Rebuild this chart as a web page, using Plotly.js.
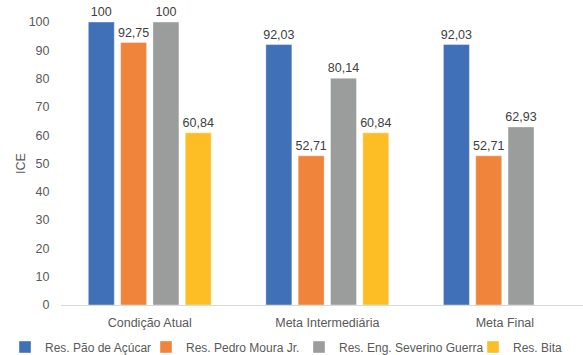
<!DOCTYPE html>
<html>
<head>
<meta charset="utf-8">
<script src="https://cdn.plot.ly/plotly-3.0.1.min.js"></script>
<style>html,body{margin:0;padding:0;background:#fff;}#chart{width:583px;height:355px;}</style>
</head>
<body>
<div id="chart"></div>
<script>
const categories = ["Condição Atual", "Meta Intermediária", "Meta Final"];
const seriesNames = ["Res. Pão de Açúcar", "Res. Pedro Moura Jr.", "Res. Eng. Severino Guerra", "Res. Bita"];
const paoDeAcucar = [100, 92.03, 92.03];
const pedroMoura = [92.75, 52.71, 52.71];
const severinoGuerra = [100, 80.14, 62.93];
const bita = [60.84, 60.84, null];
const colors = ["#3F70B8", "#F0843B", "#9B9D9D", "#FDBE25"];

const allValues = [paoDeAcucar, pedroMoura, severinoGuerra, bita];
const fmt = v => v === null ? "" : String(v).replace(".", ",");
const legendIds = ["legend", "legend2", "legend3", "legend4"];
const legendTextStart = [45, 186, 339, 513];

const traces = allValues.map((vals, i) => ({
  type: "bar",
  name: seriesNames[i],
  legend: legendIds[i],
  x: categories,
  y: vals,
  text: vals.map(fmt),
  textposition: "outside",
  constraintext: "none",
  cliponaxis: false,
  textfont: {family: "Liberation Sans, Arial, sans-serif", size: 12.5, color: "#404040"},
  marker: {color: colors[i], line: {color: "rgba(255,255,255,0.5)", width: 0.8}},
  hoverinfo: "skip"
}));

const layout = {
  width: 583, height: 355,
  margin: {l: 61, r: 0, t: 22, b: 50},
  paper_bgcolor: "#fff", plot_bgcolor: "#fff",
  font: {family: "Liberation Sans, Arial, sans-serif", size: 12, color: "#595959"},
  barmode: "group",
  bargap: 0.272,
  bargroupgap: 0.195,
  showlegend: true,
  xaxis: {
    range: [-0.5, 2.44],
    showgrid: false, zeroline: false,
    showline: true, linecolor: "#D9D9D9", linewidth: 1,
    ticks: "outside", ticklen: 6, tickcolor: "rgba(0,0,0,0)",
    tickfont: {size: 12.5, color: "#595959"}
  },
  yaxis: {
    range: [0, 100],
    dtick: 10, tick0: 0,
    showgrid: false, zeroline: false, showline: false,
    ticks: "outside", ticklen: 8, tickcolor: "rgba(0,0,0,0)",
    tickfont: {size: 12.5, color: "#595959"},
    title: {text: "ICE", font: {size: 12.5, color: "#595959"}, standoff: 0}
  }
};

legendIds.forEach((id, i) => {
  layout[id] = {
    orientation: "h",
    xref: "container", yref: "container",
    x: (legendTextStart[i] - 40) / 583, xanchor: "left",
    y: (355 - 347) / 355, yanchor: "middle",
    font: {size: 12, color: "#595959"},
    itemwidth: 30,
    bgcolor: "rgba(0,0,0,0)",
    borderwidth: 0
  };
});

Plotly.newPlot("chart", traces, layout, {displayModeBar: false, staticPlot: true});
</script>
</body>
</html>
